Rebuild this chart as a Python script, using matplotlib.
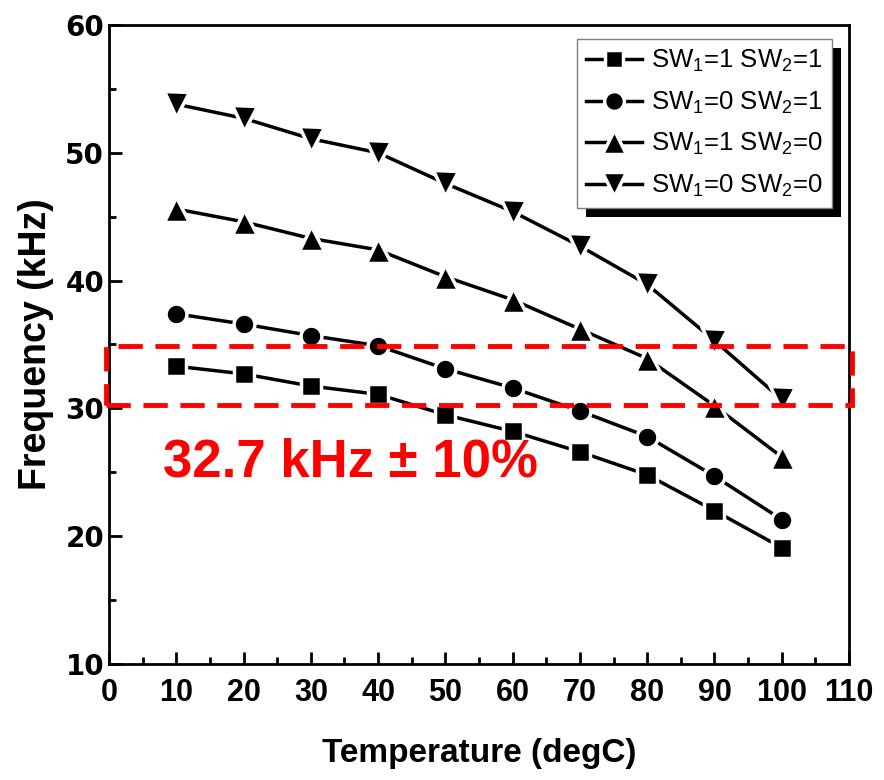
import matplotlib
matplotlib.use('Agg')
import matplotlib.pyplot as plt
from matplotlib.patches import Rectangle

plt.rcParams['font.family'] = ['Liberation Sans', 'DejaVu Sans']
plt.rcParams['mathtext.default'] = 'regular'

# temperature (degC)
temp = [10, 20, 30, 40, 50, 60, 70, 80, 90, 100]
# frequency (kHz)
f_11 = [33.3, 32.7, 31.75, 31.1, 29.5, 28.2, 26.6, 24.8, 22.0, 19.1]
f_01 = [37.4, 36.6, 35.7, 34.9, 33.1, 31.6, 29.8, 27.8, 24.7, 21.3]
f_10 = [45.6, 44.6, 43.3, 42.4, 40.3, 38.5, 36.2, 33.9, 30.2, 26.2]
f_00 = [53.8, 52.7, 51.1, 50.0, 47.6, 45.4, 42.7, 39.7, 35.3, 30.7]
labels = ['SW$_1$=1 SW$_2$=1', 'SW$_1$=0 SW$_2$=1',
          'SW$_1$=1 SW$_2$=0', 'SW$_1$=0 SW$_2$=0']
markers = ['s', 'o', '^', 'v']
msizes = [14, 15, 18, 18]
# target band
band_lo = 30.3
band_hi = 34.9

fig = plt.figure(figsize=(8.84, 7.8), dpi=100)
ax = fig.add_axes([0.1233, 0.1487, 0.8371, 0.8193])

for ys, m, ms, lab in zip([f_11, f_01, f_10, f_00], markers, msizes, labels):
    ax.plot(temp, ys, color='black', lw=2.5, marker=m, markersize=ms,
            markeredgecolor='white', markeredgewidth=2.5, label=lab, zorder=3)

# red dashed box
ax.add_patch(Rectangle((-0.5, band_lo), 111.0, band_hi - band_lo, fill=False,
                       edgecolor='red', lw=3.5, ls=(0, (5, 2.6)),
                       clip_on=False, zorder=5))
ax.text(8.0, 25.8, '32.7 kHz \u00b1 10%', color='red', fontsize=38,
        fontweight='bold', va='center', ha='left')

ax.set_xlim(0, 110)
ax.set_ylim(10, 60)
ax.set_xticks(range(0, 111, 10))
ax.set_xticks(range(5, 110, 10), minor=True)
ax.set_yticks(range(10, 61, 10))
ax.set_yticks(range(15, 60, 10), minor=True)
ax.tick_params(which='both', direction='in', width=2)
ax.tick_params(which='major', length=9)
ax.tick_params(which='minor', length=5)
ax.tick_params(axis='x', pad=10)
for s in ax.spines.values():
    s.set_linewidth(2)

for t in ax.get_yticklabels():
    t.set_family(['DejaVu Sans'])
    t.set_fontsize(20)
    t.set_fontweight('heavy')
for t in ax.get_xticklabels():
    t.set_fontsize(22)
    t.set_fontweight('bold')

ax.set_ylabel('Frequency (kHz)', fontsize=27, fontweight='bold', labelpad=8)
ax.set_xlabel('Temperature (degC)', fontsize=24, fontweight='bold', labelpad=22)

leg = ax.legend(loc='upper right', bbox_to_anchor=(0.977, 0.978), fontsize=18.5,
                frameon=True, fancybox=False, edgecolor='gray',
                handlelength=2.2, handletextpad=0.35, borderpad=0.35,
                labelspacing=0.6, borderaxespad=0, markerscale=0.95)
leg.get_frame().set_linewidth(1)
leg.get_frame().set_alpha(1)

# solid black shadow behind the legend
fig.canvas.draw()
bb = leg.get_window_extent().transformed(fig.transFigure.inverted())
dx, dy = 9 / 884, 9 / 780
fig.patches.append(Rectangle((bb.x0 + dx, bb.y0 - dy), bb.width, bb.height,
                             transform=fig.transFigure, facecolor='black',
                             edgecolor='none', zorder=0.5))
ax.set_zorder(1)
ax.patch.set_alpha(0)

fig.savefig('out.png', dpi=100)
